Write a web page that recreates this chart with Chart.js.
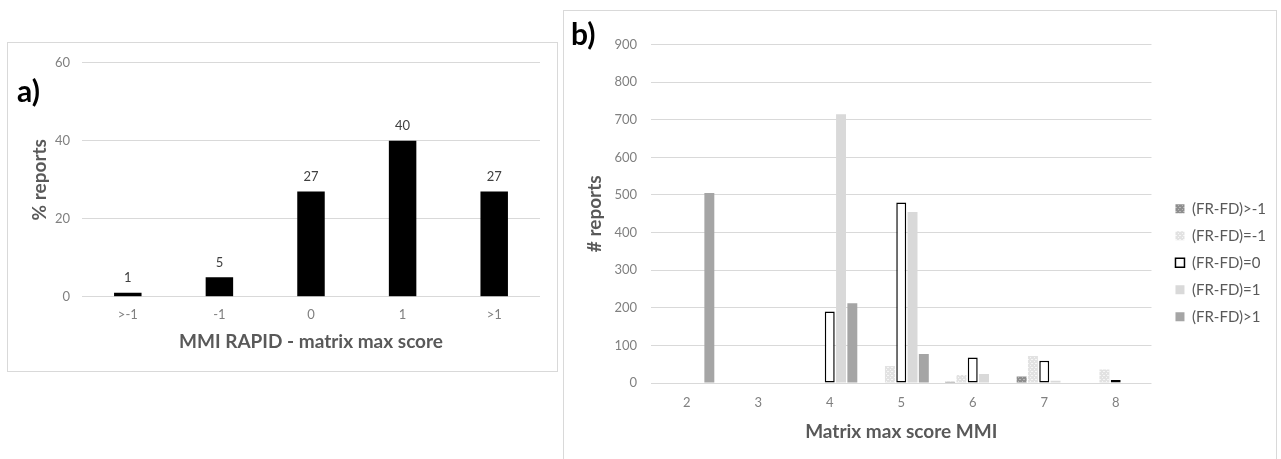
<!DOCTYPE html>
<html>
<head>
<meta charset="utf-8">
<script src="https://cdn.jsdelivr.net/npm/chart.js@4.4.1/dist/chart.umd.min.js"></script>
<style>
  html, body { margin: 0; padding: 0; background: #fff; overflow: hidden; width: 1281px; height: 459px; }
  .frame { position: absolute; border: 1px solid #d9d9d9; background: #fff; }
  #frameA { left: 7px; top: 42px; width: 549px; height: 328px; }
  #frameB { left: 563px; top: 10px; width: 712px; height: 470px; }
  .frame canvas { position: absolute; left: 0; top: 0; }
  .tag { position: absolute; font: bold 30px Lato, "Open Sans", sans-serif; line-height: 30px; color: #000; }
</style>
</head>
<body>
<div class="frame" id="frameA"><canvas id="chartA" width="549" height="328"></canvas></div>
<div class="frame" id="frameB"><canvas id="chartB" width="712" height="470"></canvas></div>
<div class="tag" style="left:17px; top:75px;">a)</div>
<div class="tag" style="left:571px; top:18px;">b)</div>

<script>
// Panel a: share of reports by MMI RAPID minus matrix max score
const diffCategories = ['>-1', '-1', '0', '1', '>1'];
const pctReports = [1, 5, 27, 40, 27];
const pctAxisMax = 60;
const pctAxisStep = 20;

// Panel b: number of reports by matrix max score MMI, split by FR-FD
const mmiScores = ['2', '3', '4', '5', '6', '7', '8'];
const seriesLabels = ['(FR-FD)>-1', '(FR-FD)=-1', '(FR-FD)=0', '(FR-FD)=1', '(FR-FD)>1'];
const countGtMinus1 = [0, 0, 0, 0, 3, 17, 0];
const countMinus1   = [0, 0, 0, 45, 21, 72, 36];
const countZero     = [0, 0, 190, 480, 68, 59, 8];
const countPlus1    = [0, 0, 715, 455, 24, 6, 0];
const countGtPlus1  = [505, 0, 212, 77, 0, 0, 0];
const countAxisMax = 900;
const countAxisStep = 100;

const FONT = 'Lato, "Open Sans", sans-serif';
const TICK_COLOR = '#808080';
const TITLE_COLOR = '#595959';
const GRID_COLOR = '#d9d9d9';

// small speckled fills for the two textured series
function speckle(base, dot) {
  const c = document.createElement('canvas');
  c.width = 4; c.height = 4;
  const g = c.getContext('2d');
  g.fillStyle = base; g.fillRect(0, 0, 4, 4);
  g.fillStyle = dot;
  g.fillRect(0, 0, 1, 1); g.fillRect(2, 2, 1, 1); g.fillRect(3, 0, 1, 1);
  return g.createPattern(c, 'repeat');
}

// value labels above each bar of panel a
const valueLabels = {
  id: 'valueLabels',
  afterDatasetsDraw(chart) {
    const ctx = chart.ctx;
    const meta = chart.getDatasetMeta(0);
    const values = chart.data.datasets[0].data;
    ctx.save();
    ctx.font = '13px ' + FONT;
    ctx.fillStyle = '#404040';
    ctx.textAlign = 'center';
    ctx.textBaseline = 'bottom';
    meta.data.forEach((bar, i) => {
      ctx.fillText(String(values[i]), bar.x, bar.y - 8);
    });
    ctx.restore();
  }
};

new Chart(document.getElementById('chartA'), {
  type: 'bar',
  data: {
    labels: diffCategories,
    datasets: [{
      data: pctReports,
      backgroundColor: '#000000',
      categoryPercentage: 1,
      barPercentage: 0.3
    }]
  },
  options: {
    responsive: false,
    animation: false,
    events: [],
    layout: { padding: { left: 0, top: 15.3, right: 17, bottom: 0 } },
    plugins: { legend: { display: false }, tooltip: { enabled: false } },
    scales: {
      x: {
        grid: { display: false, drawTicks: false },
        border: { display: false },
        ticks: { color: TICK_COLOR, font: { family: FONT, size: 13 }, padding: 10 },
        title: {
          display: true, text: 'MMI RAPID - matrix max score',
          color: TITLE_COLOR, font: { family: FONT, size: 19, weight: 'bold' },
          padding: { top: 0, bottom: 17.6 }
        },
        afterFit(scale) { scale.height = 74.3; }
      },
      y: {
        min: 0, max: pctAxisMax,
        grid: { color: GRID_COLOR, drawTicks: false },
        border: { display: false },
        ticks: { stepSize: pctAxisStep, color: TICK_COLOR, font: { family: FONT, size: 13 }, padding: 12 },
        title: {
          display: true, text: '% reports',
          color: TITLE_COLOR, font: { family: FONT, size: 19, weight: 'bold' },
          padding: { top: 20.6, bottom: 0 }
        },
        afterFit(scale) { scale.width = 74; }
      }
    }
  },
  plugins: [valueLabels]
});

// legend geometry for panel b: 9px swatches, 15px text, 12px spacing
const legendFontSize = 15;
const legendBox = 9;
const legendPad = 12;
const measureCtx = document.createElement('canvas').getContext('2d');
measureCtx.font = legendFontSize + 'px ' + FONT;
const widestLabel = Math.max(...seriesLabels.map(t => measureCtx.measureText(t).width));
const legendWidth = legendPad + legendBox + legendFontSize / 2 + widestLabel;
const legendLeft = 613;
const rightPad = Math.max(0, 712 - legendLeft - legendWidth);

const barOpts = { categoryPercentage: 0.79, barPercentage: 0.88 };

new Chart(document.getElementById('chartB'), {
  type: 'bar',
  data: {
    labels: mmiScores,
    datasets: [
      Object.assign({ label: seriesLabels[0], data: countGtMinus1, backgroundColor: speckle('#8e8e8e', '#b8b8b8') }, barOpts),
      Object.assign({ label: seriesLabels[1], data: countMinus1, backgroundColor: speckle('#e2e2e2', '#f6f6f6') }, barOpts),
      Object.assign({ label: seriesLabels[2], data: countZero, backgroundColor: '#ffffff', borderColor: '#000000', borderWidth: 1.5, borderSkipped: false }, barOpts),
      Object.assign({ label: seriesLabels[3], data: countPlus1, backgroundColor: '#d9d9d9' }, barOpts),
      Object.assign({ label: seriesLabels[4], data: countGtPlus1, backgroundColor: '#a5a5a5' }, barOpts)
    ]
  },
  options: {
    responsive: false,
    animation: false,
    events: [],
    layout: { padding: { left: 0, top: 33.6, right: rightPad, bottom: 0 } },
    plugins: {
      tooltip: { enabled: false },
      legend: {
        position: 'right',
        align: 'center',
        labels: {
          boxWidth: legendBox, boxHeight: legendBox, padding: legendPad,
          color: TITLE_COLOR, font: { family: FONT, size: legendFontSize }
        }
      }
    },
    scales: {
      x: {
        grid: { display: false, drawTicks: false },
        border: { display: false },
        ticks: { color: TICK_COLOR, font: { family: FONT, size: 13 }, padding: 12 },
        title: {
          display: true, text: 'Matrix max score MMI',
          color: TITLE_COLOR, font: { family: FONT, size: 19, weight: 'bold' },
          padding: { top: 0, bottom: 37.6 }
        },
        afterFit(scale) { scale.height = 98; }
      },
      y: {
        min: 0, max: countAxisMax,
        grid: { color: GRID_COLOR, drawTicks: false },
        border: { display: false },
        ticks: { stepSize: countAxisStep, color: TICK_COLOR, font: { family: FONT, size: 13 }, padding: 14 },
        title: {
          display: true, text: '# reports',
          color: TITLE_COLOR, font: { family: FONT, size: 19, weight: 'bold' },
          padding: { top: 19.1, bottom: 0 }
        },
        afterFit(scale) { scale.width = 87; }
      },
      // empty spacer between plot and legend
      yGap: {
        type: 'linear', position: 'right', display: true,
        grid: { display: false, drawTicks: false }, border: { display: false }, ticks: { display: false },
        afterFit(scale) { scale.width = 12; }
      }
    }
  }
});
</script>
</body>
</html>
